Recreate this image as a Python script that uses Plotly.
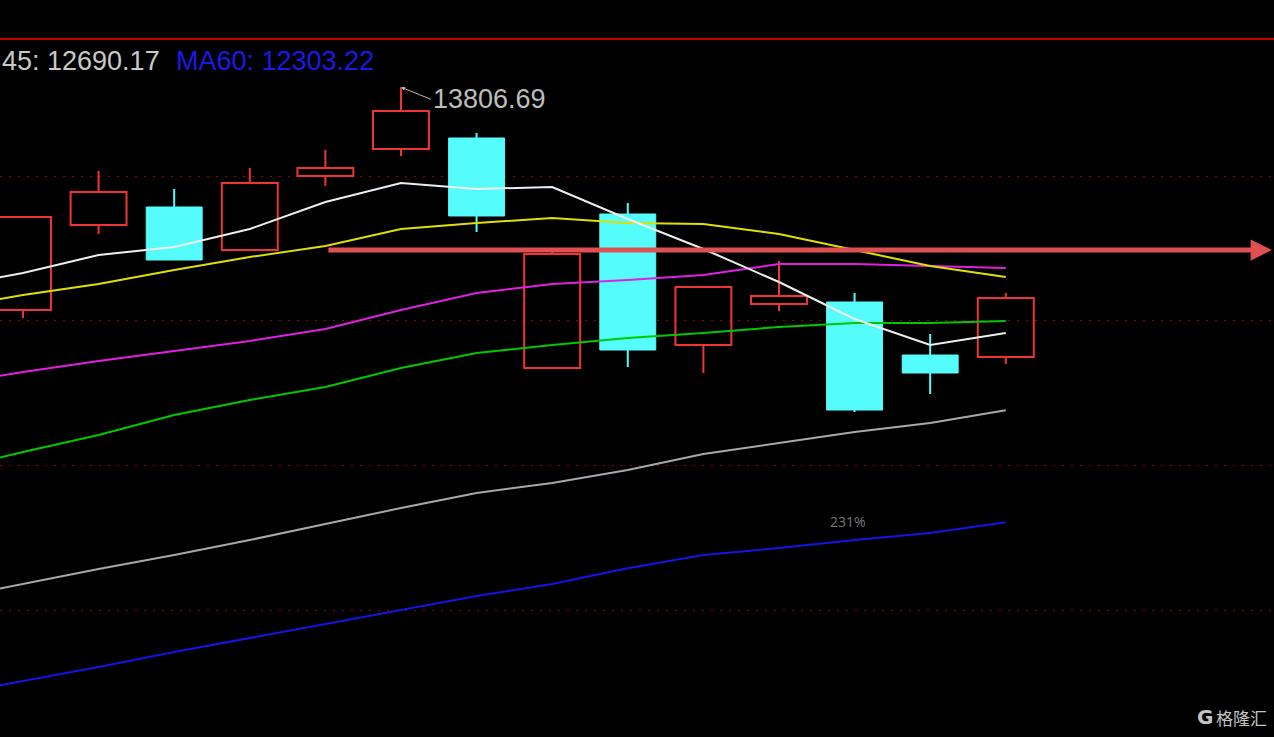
import plotly.graph_objects as go

# candles (index 0 = first, partly cut at the left edge)
c_open = [13036.9, 13330.6, 13392.9, 13244.2, 13500.0, 13593.3, 13631.3,
          12836.4, 13368.7, 12915.9, 13057.6, 13064.5, 12881.3, 12874.4]
c_high = [13358.3, 13517.3, 13455.1, 13527.6, 13589.9, 13806.69, 13648.6,
          13240.8, 13406.7, 13116.4, 13206.2, 13095.6, 12953.9, 13095.6]
c_low = [13009.2, 13299.5, 13209.7, 13244.2, 13465.4, 13569.1, 13306.4,
         12836.4, 12839.9, 12819.1, 13033.4, 12684.3, 12746.5, 12850.2]
c_close = [13358.3, 13444.7, 13209.7, 13475.8, 13527.6, 13724.7, 13361.8,
           13230.4, 12898.6, 13116.4, 13085.3, 12691.2, 12819.1, 13078.3]

# moving averages, one value per bar starting one bar before the first candle
ma_x = list(range(-1, 14))
ma5 = [13116.4, 13164.7, 13226.9, 13254.6, 13316.8, 13410.1, 13475.8, 13455.1,
       13462.0, 13351.4, 13247.7, 13133.6, 13005.8, 12915.9, 12957.4]
ma10 = [13043.8, 13088.7, 13126.7, 13175.1, 13220.0, 13258.1, 13316.8, 13337.6,
        13354.8, 13337.6, 13334.1, 13299.5, 13244.2, 13188.9, 13150.9]
ma20 = [12781.1, 12822.6, 12860.6, 12895.2, 12929.7, 12971.2, 13036.9, 13095.6,
        13126.7, 13140.4, 13157.8, 13195.9, 13195.9, 13188.9, 13182.0]
ma30 = [12483.9, 12546.1, 12604.8, 12673.9, 12725.8, 12770.7, 12836.4, 12888.3,
        12915.9, 12940.1, 12957.4, 12978.1, 12991.9, 12991.9, 12998.9]
ma45 = [12038.0, 12089.9, 12141.7, 12190.1, 12241.9, 12297.2, 12352.5, 12404.4,
        12438.9, 12483.9, 12539.2, 12577.2, 12615.2, 12646.3, 12690.17]
ma60 = [11706.2, 11754.6, 11803.0, 11854.8, 11903.2, 11951.6, 12000.0, 12048.4,
        12089.9, 12144.1, 12190.1, 12214.3, 12241.9, 12266.1, 12303.22]

grid_levels = [12000, 12500, 13000, 13500]
arrow_level = 13244.2
high_label = "13806.69"
pct_label = "231%"

UP = '#f03434'
DOWN = '#55fcfc'
LABEL_FONT = 'Liberation Sans'

fig = go.Figure()

# wicks (drawn outside the bodies so hollow boxes stay empty)
for want_up, col in [(True, UP), (False, DOWN)]:
    wx, wy = [], []
    for i in range(len(c_open)):
        if (c_close[i] >= c_open[i]) != want_up:
            continue
        top = max(c_open[i], c_close[i])
        bot = min(c_open[i], c_close[i])
        wx += [i, i, None, i, i, None]
        wy += [c_high[i], top, None, bot, c_low[i], None]
    fig.add_trace(go.Scatter(x=wx, y=wy, mode='lines', line=dict(color=col, width=2),
                             hoverinfo='skip', showlegend=False))

# bodies
up_i = [i for i in range(len(c_open)) if c_close[i] >= c_open[i]]
dn_i = [i for i in range(len(c_open)) if c_close[i] < c_open[i]]
fig.add_trace(go.Bar(
    x=up_i, base=[c_open[i] for i in up_i], y=[c_close[i] - c_open[i] for i in up_i],
    width=0.74, marker=dict(color='rgba(0,0,0,0)', line=dict(color=UP, width=2)),
    showlegend=False))
fig.add_trace(go.Bar(
    x=dn_i, base=[c_close[i] for i in dn_i], y=[c_open[i] - c_close[i] for i in dn_i],
    width=0.74, marker=dict(color=DOWN, line=dict(color=DOWN, width=1)),
    showlegend=False))

# moving average lines
for vals, col in [(ma60, '#1414e6'), (ma45, '#a8a8a8'), (ma30, '#00c800'),
                  (ma20, '#e020e0'), (ma10, '#e0e000'), (ma5, '#eeeeee')]:
    fig.add_trace(go.Scatter(x=ma_x, y=vals, mode='lines', line=dict(color=col, width=2),
                             hoverinfo='skip', showlegend=False))

# red arrow to the right edge
fig.add_annotation(x=16.52, y=arrow_level, ax=4.02, ay=arrow_level, axref='x', ayref='y',
                   xref='x', yref='y', text='', showarrow=True, arrowhead=2,
                   arrowsize=0.85, arrowwidth=5, arrowcolor='#e05050')

# high marker
fig.add_annotation(x=5, y=c_high[5], text=high_label, showarrow=True, ax=30, ay=12,
                   xanchor='left', arrowhead=2, arrowsize=0.8, arrowwidth=1,
                   arrowcolor='#bdbdbd', standoff=0,
                   font=dict(family=LABEL_FONT, size=27, color='#bdbdbd'))

fig.add_annotation(x=848 / 1274, y=1 - 521 / 737, xref='paper', yref='paper',
                   xanchor='center', yanchor='middle', text=pct_label, showarrow=False,
                   font=dict(family='Open Sans', size=14, color='#7a7a7a'))

# header labels
fig.add_annotation(x=0, y=1 - 61 / 737, xref='paper', yref='paper',
                   xanchor='left', yanchor='middle',
                   text='45: 12690.17', showarrow=False,
                   font=dict(family=LABEL_FONT, size=27, color='#c8c8c8'))
fig.add_annotation(x=174 / 1274, y=1 - 61 / 737, xref='paper', yref='paper',
                   xanchor='left', yanchor='middle',
                   text='MA60: 12303.22', showarrow=False,
                   font=dict(family=LABEL_FONT, size=27, color='#1a1ae6'))

# watermark
fig.add_annotation(x=1195 / 1274, y=1 - 717 / 737, xref='paper', yref='paper',
                   xanchor='left', yanchor='middle',
                   text='<b>G</b>', showarrow=False,
                   font=dict(family='DejaVu Sans', size=20, color='#c4c4c4'))
fig.add_annotation(x=1214 / 1274, y=1 - 717 / 737, xref='paper', yref='paper',
                   xanchor='left', yanchor='middle',
                   text='格隆汇', showarrow=False,
                   font=dict(family='Noto Sans CJK SC', size=17, color='#c4c4c4'))

# top border
fig.add_shape(type='line', xref='paper', yref='paper', x0=0, x1=1,
              y0=1 - 39 / 737, y1=1 - 39 / 737, line=dict(color='#c00000', width=2))

fig.update_layout(
    width=1274, height=737,
    margin=dict(l=0, r=0, t=0, b=0),
    paper_bgcolor='black', plot_bgcolor='black',
    barmode='overlay', showlegend=False,
    xaxis=dict(range=[-0.304, 16.548], visible=False, fixedrange=True),
    yaxis=dict(range=[11561.1, 14108.3], tickvals=grid_levels, showticklabels=False,
               showgrid=True, gridcolor='#a00000', gridwidth=1, griddash='2px,7px',
               zeroline=False, fixedrange=True),
)

fig.write_html("out.html", config={'displayModeBar': False},
               post_script="document.body.style.margin='0px';"
                           "document.body.style.background='black';")
